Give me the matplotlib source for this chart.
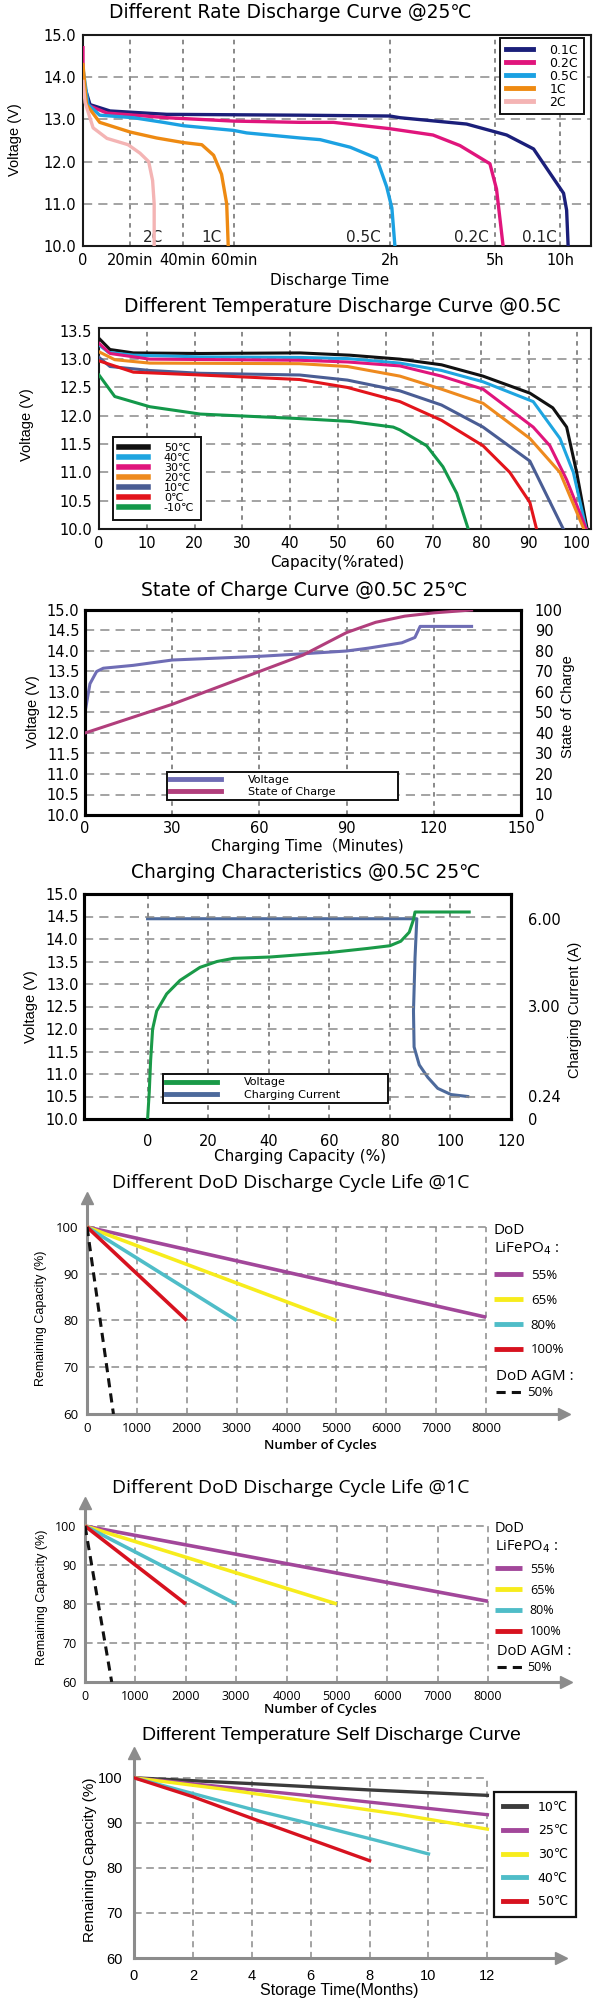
import numpy as np
import matplotlib
matplotlib.use("Agg")
import matplotlib.pyplot as plt

W, H = 600, 2000

SANS = ['DejaVu Sans', 'Noto Sans CJK SC']
NARROW = ['Liberation Sans Narrow', 'Liberation Sans']
OPEN = ['Open Sans', 'DejaVu Sans']
ARIAL = ['Liberation Sans', 'DejaVu Sans']
plt.rcParams['font.family'] = SANS

# ---------------- panel 1 : different rate discharge @25C ----------------
rate_labels = ["0.1C", "0.2C", "0.5C", "1C", "2C"]
rate_colors = ["#1b1f7a", "#e0157c", "#1ba1e2", "#ee8a12", "#f4b4b4"]
# discharge time in minutes
rate_t = [
    [0, 3.0, 11.5, 34.0, 85.4, 120, 137.4, 251.3, 353.9, 478.1, 616.4, 630.5, 637.5],
    [0, 0, 1.5, 10.2, 34.0, 59.8, 85.4, 98.3, 120, 193.9, 240, 291.3, 307, 337.5],
    [0, 2.2, 7.1, 21.3, 32.7, 40.4, 59.8, 64.9, 85.4, 93.2, 104.8, 114.9, 118.8, 123.5, 128.7],
    [0, 1.5, 7.1, 20.1, 30.1, 40.4, 47.5, 52.1, 55.2, 57.2, 57.8],
    [0, 0.9, 4.3, 10.2, 19.2, 23.8, 27.1, 28.6, 29.2, 29.2],
]
rate_v = [
    [13.9, 13.35, 13.2, 13.12, 13.1, 13.08, 13.04, 12.89, 12.63, 12.3, 11.25, 10.85, 10.0],
    [14.7, 14.0, 13.35, 13.15, 13.04, 12.96, 12.93, 12.93, 12.78, 12.63, 12.38, 11.95, 11.35, 10.0],
    [14.2, 13.35, 13.1, 13.04, 12.93, 12.85, 12.74, 12.68, 12.56, 12.52, 12.34, 12.08, 11.4, 10.9, 10.0],
    [14.3, 13.35, 12.93, 12.7, 12.56, 12.45, 12.4, 12.15, 11.7, 11.0, 10.0],
    [13.9, 13.4, 12.8, 12.55, 12.4, 12.2, 12.0, 11.55, 11.0, 10.0],
]
rate_ticks = [0, 20, 40, 60, 120, 300, 600]
rate_tick_labels = ["0", "20min", "40min", "60min", "2h", "5h", "10h"]
rate_end_t = [504, 260, 109.8, 51.3, 28.8]   # where the end labels sit

# the time axis is stretched piecewise in the source
t_knots = [0, 20, 40, 60, 120, 300, 600, 1200]
p_knots = [0, 9.25, 19.6, 29.7, 60.4, 81.1, 93.9, 119.5]

# ---------------- panel 2 : temperature discharge @0.5C ----------------
temp_labels = ["50\u2103", "40\u2103", "30\u2103", "20\u2103", "10\u2103", "0\u2103", "-10\u2103"]
temp_colors = ["#111111", "#1ea5e0", "#e0157c", "#ee8a1e", "#4a5d94", "#e3141b", "#13984a"]
temp_cap = [
    [0.2, 2.3, 7.2, 21.2, 42.1, 52.5, 63, 71.7, 80.4, 90.2, 95, 97.9, 100, 101.7, 102.2],
    [0, 2.0, 7.2, 21.2, 42, 52, 63, 71.7, 80.4, 90.9, 96.5, 99.3, 102],
    [0, 2.3, 10.6, 42, 52, 63, 71.7, 80.4, 90.9, 94.4, 97.9, 102],
    [0, 3.3, 10.6, 42, 52, 63, 71.7, 80.4, 90.2, 96.5, 101.5],
    [0, 2.3, 10.6, 21.2, 42, 52, 63, 71.7, 80.4, 90.2, 97.2],
    [0, 7.2, 21.2, 42, 52, 63, 71.7, 80.4, 86, 90.2, 91.6],
    [0, 3.3, 10.6, 21.2, 42, 52.5, 61.6, 63, 68.6, 72, 74.9, 77.3],
]
temp_v = [
    [13.35, 13.17, 13.11, 13.1, 13.11, 13.07, 13.0, 12.9, 12.7, 12.4, 12.14, 11.8, 11.0, 10.22, 10.0],
    [13.25, 13.12, 13.07, 13.04, 13.03, 13.01, 12.93, 12.8, 12.6, 12.25, 11.6, 11.0, 10.0],
    [13.28, 13.1, 13.0, 12.98, 12.95, 12.88, 12.7, 12.47, 11.8, 11.47, 10.87, 10.0],
    [13.13, 12.99, 12.93, 12.92, 12.87, 12.7, 12.47, 12.22, 11.6, 11.0, 10.0],
    [13.03, 12.87, 12.8, 12.75, 12.72, 12.63, 12.44, 12.19, 11.8, 11.2, 10.0],
    [12.97, 12.77, 12.72, 12.64, 12.5, 12.25, 11.92, 11.47, 11.0, 10.47, 10.0],
    [12.72, 12.34, 12.16, 12.03, 11.95, 11.9, 11.8, 11.75, 11.47, 11.1, 10.63, 10.0],
]

# ---------------- panel 3 : state of charge @0.5C 25C ----------------
soc_volt_t = [0, 1.7, 4, 6.3, 16.6, 30, 60, 74.5, 90, 97.5, 109, 113.5, 115.3, 133]
soc_volt = [12.5, 13.2, 13.5, 13.58, 13.65, 13.78, 13.87, 13.93, 14.0, 14.07, 14.2, 14.33, 14.6, 14.6]
soc_t = [0, 15, 30, 45, 60, 75, 90, 100, 110, 120, 133]
soc_pct = [40, 47, 54, 62, 70, 78, 89, 94, 97, 98.6, 100]

# ---------------- panel 4 : charging characteristics ----------------
chg_cap = [0, 0.55, 1.0, 1.66, 3.0, 6.3, 10.7, 17.3, 22.9, 28.4, 40.5, 60.2, 72.6, 80, 83.6, 86.4, 87.8, 88.3, 106.2]
chg_volt = [10.0, 10.6, 11.3, 12.0, 12.4, 12.78, 13.08, 13.37, 13.5, 13.57, 13.6, 13.7, 13.79, 13.85, 13.95,
            14.15, 14.43, 14.6, 14.6]
cur_cap = [0, 88.9, 88.3, 87.8, 88.0, 89.7, 92.5, 95.8, 100.2, 105.7]
cur_amp = [6.0, 6.0, 4.65, 2.86, 1.76, 1.21, 0.83, 0.49, 0.3, 0.24]
amp_ticks = [0, 0.24, 3.0, 6.0]
amp_tick_labels = ["0", "0.24", "3.00", "6.00"]
# right axis of the source is not linear: amps -> voltage grid
amp_knots = [-10, 0, 0.24, 3.0, 6.0, 20]
volt_knots = [-10.8, 10.0, 10.5, 12.5, 14.45, 23.55]

# ---------------- panels 5/6 : DoD cycle life @1C ----------------
dod_labels = ["55%", "65%", "80%", "100%"]
dod_colors = ["#a2479a", "#f7ec1c", "#4fbdc8", "#d7121f"]
dod_cycles = [[0, 8000], [0, 5000], [0, 3000], [0, 2000]]
dod_cap = [[100, 80.7], [100, 80], [100, 80], [100, 80]]
agm_cycles = [0, 530]
agm_cap = [100, 60]

# ---------------- panel 7 : self discharge ----------------
sd_labels = ["10\u2103", "25\u2103", "30\u2103", "40\u2103", "50\u2103"]
sd_colors = ["#3b3b3b", "#a2479a", "#f7ec1c", "#4fbdc8", "#d7121f"]
sd_months = [[0, 4, 8, 12], [0, 6, 12], [0, 3, 6, 9, 12], [0, 2, 4, 6, 8, 10], [0, 2, 4, 6, 8]]
sd_cap = [[100, 98.7, 97.3, 96.1], [100, 96, 91.8], [100, 97.5, 94.7, 91.9, 88.6],
          [100, 96.5, 93, 89.8, 86.5, 83.1], [100, 95.8, 91, 86.3, 81.6]]

fig = plt.figure(figsize=(6, 20), dpi=100)


def add_ax(left, top, right, bottom):
    return fig.add_axes([left / W, 1 - bottom / H, (right - left) / W, (bottom - top) / H])


def ftext(x, y, s, **kw):
    kw.setdefault('ha', 'center')
    kw.setdefault('va', 'center')
    fig.text(x / W, 1 - y / H, s, **kw)


def grid_lines(ax, xs, ys):
    for x in xs:
        ax.axvline(x, color='#6a6a6a', lw=1.1, ls=(0, (3, 3)), zorder=0.5)
    for y in ys:
        ax.axhline(y, color='#8a8a8a', lw=1.1, ls=(0, (6, 4)), zorder=0.5)


def box_spines(ax, lw, color='#1a1a1a'):
    for s in ax.spines.values():
        s.set_linewidth(lw)
        s.set_color(color)


def frame_legend(leg, lw=1.4):
    fr = leg.get_frame()
    fr.set_linewidth(lw)
    fr.set_edgecolor('#111111')


# ======== panel 1 ========
ax1 = add_ax(83, 35, 591, 246)
ax1.set_xscale('function', functions=(lambda t: np.interp(t, t_knots, p_knots),
                                      lambda p: np.interp(p, p_knots, t_knots)))
for lab, col, t, v in zip(rate_labels, rate_colors, rate_t, rate_v):
    ax1.plot(t, v, color=col, lw=2.4, label=lab, zorder=3)
ax1.set_xlim(0, 743)
ax1.set_ylim(10, 15)
ax1.set_xticks(rate_ticks)
ax1.set_xticklabels(rate_tick_labels)
ax1.set_yticks(np.arange(10, 15.01, 1.0))
ax1.set_yticklabels([f"{v:.1f}" for v in np.arange(10, 15.01, 1.0)])
ax1.tick_params(length=0, labelsize=10.5, pad=5)
grid_lines(ax1, rate_ticks[1:], [11, 12, 13, 14])
box_spines(ax1, 1.5)
for lab, t in zip(rate_labels, rate_end_t):
    ax1.text(t, 10.03, lab, ha='center', va='bottom', fontsize=11, color='#222222', zorder=2)
leg = ax1.legend(loc='upper right', bbox_to_anchor=(0.986, 0.986), fontsize=9, handlelength=2.2,
                 handletextpad=1.3, labelspacing=0.0, borderpad=0.45, borderaxespad=0,
                 fancybox=False, framealpha=1)
frame_legend(leg)
for ln in leg.get_lines():
    ln.set_linewidth(3.5)
ftext(290, 13, "Different Rate Discharge Curve @25\u2103", fontsize=13.5)
ftext(15, 140, "Voltage (V)", rotation=90, fontsize=10.5, family=NARROW)
ftext(330, 280, "Discharge Time", fontsize=11)

# ======== panel 2 ========
ax2 = add_ax(99, 328, 591, 529)
for lab, col, c, v in zip(temp_labels, temp_colors, temp_cap, temp_v):
    ax2.plot(c, v, color=col, lw=2.2, label=lab, zorder=3)
ax2.set_xlim(0, 103)
ax2.set_ylim(10, 13.55)
ax2.set_xticks(np.arange(0, 101, 10))
ax2.set_yticks(np.arange(10, 13.51, 0.5))
ax2.set_yticklabels([f"{v:.1f}" for v in np.arange(10, 13.51, 0.5)])
ax2.tick_params(length=0, labelsize=10.5, pad=5)
grid_lines(ax2, np.arange(10, 101, 10), np.arange(10.5, 13.01, 0.5))
box_spines(ax2, 1.5)
leg = ax2.legend(loc='lower left', bbox_to_anchor=(0.028, 0.045), fontsize=8, handlelength=2.6,
                 handletextpad=1.4, labelspacing=0.0, borderpad=0.6, borderaxespad=0,
                 fancybox=False, framealpha=1)
frame_legend(leg)
for ln in leg.get_lines():
    ln.set_linewidth(4)
ftext(342, 307, "Different Temperature Discharge Curve @0.5C", fontsize=13.5)
ftext(27, 425, "Voltage (V)", rotation=90, fontsize=10.5, family=NARROW)
ftext(337, 563, "Capacity(%rated)", fontsize=11)

# ======== panel 3 ========
ax3 = add_ax(85, 610, 521, 815)
l_v, = ax3.plot(soc_volt_t, soc_volt, color="#6f6db5", lw=2.2, label="Voltage", zorder=3)
ax3.set_xlim(0, 150)
ax3.set_ylim(10, 15)
ax3.set_xticks(np.arange(0, 151, 30))
ax3.set_yticks(np.arange(10, 15.01, 0.5))
ax3.set_yticklabels([f"{v:.1f}" for v in np.arange(10, 15.01, 0.5)])
ax3.tick_params(length=0, labelsize=10.5, pad=4)
grid_lines(ax3, [30, 60, 90, 120], np.arange(10.5, 14.51, 0.5))
ax3r = ax3.twinx()
l_s, = ax3r.plot(soc_t, soc_pct, color="#b13e7c", lw=2.2, label="State of Charge", zorder=3)
ax3r.set_ylim(0, 100)
ax3r.set_yticks(np.arange(0, 101, 10))
ax3r.tick_params(length=0, labelsize=10.5, pad=10)
box_spines(ax3, 2.2, '#000000')
box_spines(ax3r, 2.2, '#000000')
leg = ax3r.legend(handles=[l_v, l_s], loc='lower left', bbox_to_anchor=(0.187, 0.073, 0.532, 0.16),
                  mode='expand', fontsize=8, handlelength=4.6, handletextpad=2.4,
                  labelspacing=0.15, borderpad=0.3, borderaxespad=0, fancybox=False, framealpha=1)
frame_legend(leg)
for ln in leg.get_lines():
    ln.set_linewidth(3.5)
ftext(304, 591, "State of Charge Curve @0.5C 25\u2103", fontsize=13.5)
ftext(33, 712, "Voltage (V)", rotation=90, fontsize=10.5, family=NARROW)
ftext(568, 707, "State of Charge", rotation=90, fontsize=10.5, family=NARROW)
ftext(307, 846, "Charging Time\uff08Minutes)", fontsize=11, family=SANS)

# ======== panel 4 ========
ax4 = add_ax(84, 894, 511, 1119)
l_cv, = ax4.plot(chg_cap, chg_volt, color="#1a9a48", lw=2.2, label="Voltage", zorder=3)
ax4.set_xlim(-21, 120)
ax4.set_ylim(10, 15)
ax4.set_xticks(np.arange(0, 121, 20))
ax4.set_yticks(np.arange(10, 15.01, 0.5))
ax4.set_yticklabels([f"{v:.1f}" for v in np.arange(10, 15.01, 0.5)])
ax4.tick_params(axis='y', length=0, labelsize=10.5, pad=4)
ax4.tick_params(axis='x', length=0, labelsize=10.5, pad=11)
grid_lines(ax4, np.arange(0, 101, 20), np.arange(10.5, 14.51, 0.5))
ax4r = ax4.twinx()
ax4r.set_yscale('function', functions=(lambda a: np.interp(a, amp_knots, volt_knots),
                                       lambda v: np.interp(v, volt_knots, amp_knots)))
l_cc, = ax4r.plot(cur_cap, cur_amp, color="#4d6a9c", lw=2.2, label="Charging Current", zorder=2)
ax4r.set_ylim(0, 6.846)
ax4r.set_yticks(amp_ticks)
ax4r.set_yticklabels(amp_tick_labels)
ax4r.tick_params(length=0, labelsize=10.5, pad=12)
ax4r.set_zorder(ax4.get_zorder() - 1)
ax4.patch.set_visible(False)
box_spines(ax4, 2.2, '#000000')
box_spines(ax4r, 2.2, '#000000')
leg = ax4.legend(handles=[l_cv, l_cc], loc='lower left', bbox_to_anchor=(0.185, 0.071, 0.527, 0.16),
                 mode='expand', fontsize=8, handlelength=4.6, handletextpad=2.4,
                 labelspacing=0.2, borderpad=0.3, borderaxespad=0, fancybox=False, framealpha=1)
frame_legend(leg)
for ln in leg.get_lines():
    ln.set_linewidth(3.5)
ftext(306, 872, "Charging Characteristics @0.5C 25\u2103", fontsize=13.5)
ftext(31, 1007, "Voltage (V)", rotation=90, fontsize=10.5, family=NARROW)
ftext(575, 1010, "Charging Current (A)", rotation=90, fontsize=10.5, family=NARROW)
ftext(300, 1156, "Charging Capacity (%)", fontsize=11)


# ======== panels 5 & 6 ========
def arrow_axes(ax, color='#8c8c8c'):
    for s in ['top', 'right']:
        ax.spines[s].set_visible(False)
    for s in ['left', 'bottom']:
        ax.spines[s].set_color(color)
        ax.spines[s].set_linewidth(2.2)
    ax.plot(1, 0, '>', color=color, ms=9, transform=ax.transAxes, clip_on=False)
    ax.plot(0, 1, '^', color=color, ms=9, transform=ax.transAxes, clip_on=False)


def dash_grid(ax, xs, ys, xmax, ymin, ymax):
    ax.vlines(xs, ymin, ymax, colors='#8a8a8a', lw=1.1, linestyles=(0, (4, 3)), zorder=0.5)
    ax.hlines(ys, 0, xmax, colors='#8a8a8a', lw=1.1, linestyles=(0, (5, 3)), zorder=0.5)


def dod_panel(box, ylim_top, xlim_right, legA, legB, fs, spacing, title_y, ylab_xy, xlab_y):
    ax = add_ax(*box)
    handles = []
    for lab, col, c, q in zip(dod_labels, dod_colors, dod_cycles, dod_cap):
        ln, = ax.plot(c, q, color=col, lw=2.6, label=lab, zorder=3, solid_capstyle='butt')
        handles.append(ln)
    agm, = ax.plot(agm_cycles, agm_cap, color='#111111', lw=2.2, ls=(0, (3, 2)), label="50%", zorder=3)
    ax.set_xlim(0, xlim_right)
    ax.set_ylim(60, ylim_top)
    ax.set_xticks(np.arange(0, 8001, 1000))
    ax.set_yticks([60, 70, 80, 90, 100])
    ax.tick_params(length=0, labelsize=fs + 0.5, pad=6)
    for t in ax.get_xticklabels() + ax.get_yticklabels():
        t.set_family(OPEN)
    dash_grid(ax, np.arange(1000, 8001, 1000), [70, 80, 90, 100], 8000, 60, 100)
    arrow_axes(ax)
    la = ax.legend(handles=handles, title="DoD\nLiFePO$_4$ :", alignment='left', frameon=False,
                   loc='upper left', bbox_to_anchor=legA, borderpad=0, borderaxespad=0,
                   handlelength=2.2, handletextpad=0.6, labelspacing=spacing,
                   prop={'family': OPEN, 'size': fs + 0.5},
                   title_fontproperties={'family': OPEN, 'size': fs + 2})
    for ln in la.get_lines():
        ln.set_linewidth(3.5)
    ax.add_artist(la)
    ax.legend(handles=[agm], title="DoD AGM :", alignment='left', frameon=False,
              loc='upper left', bbox_to_anchor=legB, borderpad=0, borderaxespad=0,
              handlelength=2.2, handletextpad=0.2, labelspacing=0.2,
              prop={'family': OPEN, 'size': fs + 0.5},
              title_fontproperties={'family': OPEN, 'size': fs + 2})
    ftext(291, title_y, "Different DoD Discharge Cycle Life @1C", fontsize=14, family=OPEN)
    ftext(ylab_xy[0], ylab_xy[1], "Remaining Capacity (%)", rotation=90, fontsize=9, family=NARROW)
    ftext(320, xlab_y, "Number of Cycles", fontsize=9.5, family=OPEN, fontweight='semibold')
    return ax


dod_panel((87, 1198, 564, 1414), 106.2, 9560, (0.853, 0.885), (0.857, 0.21), 9, 0.9,
          1183, (41, 1318), 1446)
dod_panel((85, 1503, 566, 1682), 105.9, 9548, (0.852, 0.9), (0.857, 0.215), 8.5, 0.62,
          1488, (42, 1597), 1709)

# ======== panel 7 ========
ax7 = add_ax(134, 1753, 561, 1958)
for lab, col, m, q in zip(sd_labels, sd_colors, sd_months, sd_cap):
    ax7.plot(m, q, color=col, lw=2.4, label=lab, zorder=3)
ax7.set_xlim(0, 14.5)
ax7.set_ylim(60, 105.5)
ax7.set_xticks(np.arange(0, 13, 2))
ax7.set_yticks([60, 70, 80, 90, 100])
ax7.tick_params(length=0, labelsize=10.5, pad=8)
for t in ax7.get_xticklabels() + ax7.get_yticklabels():
    t.set_family(ARIAL)
dash_grid(ax7, np.arange(2, 13, 2), [70, 80, 90, 100], 12, 60, 100)
arrow_axes(ax7)
leg = ax7.legend(loc='upper left', bbox_to_anchor=(0.843, 0.81), prop={'family': SANS, 'size': 9},
                 handlelength=1.9, handletextpad=0.9, labelspacing=0.85, borderpad=0.7,
                 borderaxespad=0, fancybox=False, framealpha=1)
frame_legend(leg, 1.6)
for ln in leg.get_lines():
    ln.set_linewidth(3.5)
ftext(331, 1736, "Different Temperature Self Discharge Curve", fontsize=14, family=ARIAL)
ftext(90, 1860, "Remaining Capacity (%)", rotation=90, fontsize=11, family=NARROW)
ftext(339, 1990, "Storage Time(Months)", fontsize=11.5, family=ARIAL)

fig.savefig("out.png", dpi=100)
